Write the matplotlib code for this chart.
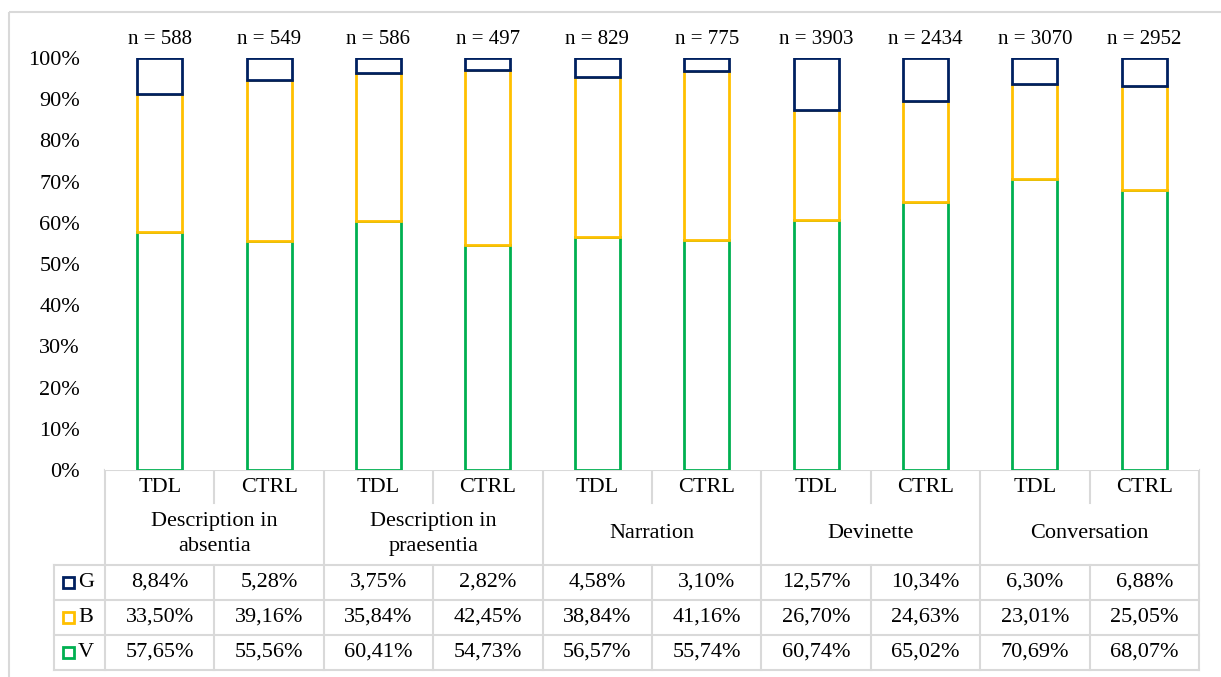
import matplotlib.pyplot as plt
from matplotlib.patches import Rectangle
from matplotlib.lines import Line2D

# data
groups = ["Description in\nabsentia", "Description in\npraesentia", "Narration", "Devinette", "Conversation"]
subgroups = ["TDL", "CTRL"]
n_counts = [588, 549, 586, 497, 829, 775, 3903, 2434, 3070, 2952]
V = [57.65, 55.56, 60.41, 54.73, 56.57, 55.74, 60.74, 65.02, 70.69, 68.07]
B = [33.50, 39.16, 35.84, 42.45, 38.84, 41.16, 26.70, 24.63, 23.01, 25.05]
G = [8.84, 5.28, 3.75, 2.82, 4.58, 3.10, 12.57, 10.34, 6.30, 6.88]

green = "#00B050"
yellow = "#FFC000"
navy = "#002060"
grid_c = "#D9D9D9"

plt.rcParams['font.family'] = ['Liberation Serif', 'DejaVu Serif']
fs = 16

W, H = 1221, 677
fig = plt.figure(figsize=(W / 100, H / 100), dpi=100)

# pixel helpers
def fx(px):
    return px / W

def fy(py):
    return 1 - py / H

left, right, y0, y100 = 105, 1199, 470, 58
ax = fig.add_axes([fx(left), fy(y0), fx(right) - fx(left), fy(y100) - fy(y0)])

x = list(range(len(V)))
v = [a / 100 for a in V]
b = [a / 100 for a in B]
g = [a / 100 for a in G]
vb = [p + q for p, q in zip(v, b)]
bw = 0.41
ax.bar(x, v, bw, color="white", edgecolor=green, linewidth=2.0, zorder=2)
ax.bar(x, b, bw, bottom=v, color="white", edgecolor=yellow, linewidth=2.0, zorder=3)
ax.bar(x, g, bw, bottom=vb, color="white", edgecolor=navy, linewidth=2.0, zorder=4)

for i, n in enumerate(n_counts):
    ax.text(i, 1.045, f"n = {n}", ha="center", va="center", fontsize=15, clip_on=False)

ax.set_xlim(-0.5, len(V) - 0.5)
ax.set_ylim(0, 1)
ax.set_yticks([i / 10 for i in range(11)])
ax.set_yticklabels([f"{i * 10}%" for i in range(11)], fontsize=fs)
ax.tick_params(axis="y", length=0, pad=18)
ax.set_xticks([])
for s in ax.spines.values():
    s.set_visible(False)

# overlay in pixel coordinates for the data table and frame
ov = fig.add_axes([0, 0, 1, 1], zorder=-1)
ov.set_xlim(0, W)
ov.set_ylim(H, 0)
ov.axis("off")
ov.add_patch(Rectangle((9, 12), W, H, fill=False, edgecolor=grid_c, linewidth=1.5))

col_w = (right - left) / len(V)
r_top, r_sub, r_grp = 470, 503, 565
rows_y = [565, 600, 635, 670]
leg_left = 54

def hline(y, x1, x2):
    ov.add_line(Line2D([x1, x2], [y, y], color=grid_c, linewidth=1.5))

def vline(xp, y1, y2):
    ov.add_line(Line2D([xp, xp], [y1, y2], color=grid_c, linewidth=1.5))

hline(r_top, left, right)
for y in rows_y:
    hline(y, leg_left, right)
vline(leg_left, r_grp, rows_y[-1])
for k in range(len(V) + 1):
    xp = left + k * col_w
    if k % 2 == 0:
        vline(xp, r_top, rows_y[-1])
    else:
        vline(xp, r_top, r_sub)
        vline(xp, r_grp, rows_y[-1])

for k in range(len(V)):
    cx = left + (k + 0.5) * col_w
    ov.text(cx, 488, subgroups[k % 2], ha="center", va="center", fontsize=fs)
for j, name in enumerate(groups):
    cx = left + (2 * j + 1) * col_w
    ov.text(cx, 534, name, ha="center", va="center", fontsize=fs, linespacing=1.4)

series = [("G", G, navy), ("B", B, yellow), ("V", V, green)]
for r, (lab, vals, col) in enumerate(series):
    cy = (rows_y[r] + rows_y[r + 1]) / 2
    ov.add_patch(Rectangle((63, cy - 6), 11, 11, fill=False, edgecolor=col, linewidth=2))
    ov.text(78, cy, lab, ha="left", va="center", fontsize=fs)
    for k, val in enumerate(vals):
        cx = left + (k + 0.5) * col_w
        ov.text(cx, cy, f"{val:.2f}%".replace(".", ","), ha="center", va="center", fontsize=fs)

fig.savefig("out.png", dpi=100)
